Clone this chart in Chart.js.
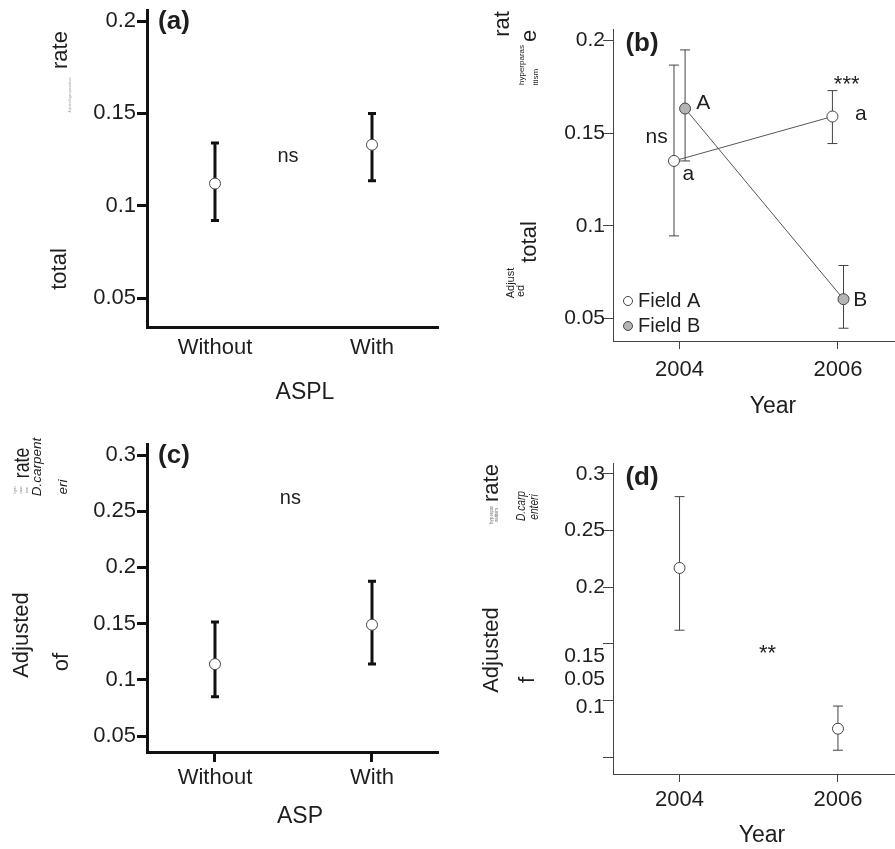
<!DOCTYPE html>
<html>
<head>
<meta charset="utf-8">
<script src="https://cdn.jsdelivr.net/npm/chart.js@4.4.0/dist/chart.umd.min.js"></script>
<style>
  body { margin: 0; background: #fff; }
  .panel { position: absolute; }
</style>
</head>
<body>
<canvas id="chartA" class="panel" style="left:0;top:0" width="440" height="420"></canvas>
<canvas id="chartB" class="panel" style="left:440px;top:0" width="455" height="420"></canvas>
<canvas id="chartC" class="panel" style="left:0;top:420px" width="440" height="429"></canvas>
<canvas id="chartD" class="panel" style="left:440px;top:420px" width="455" height="429"></canvas>
<script>
// --- DATA ---
// (a) total hyperparasitism, with / without ASPL
const aspLabels = ['Without', 'With'];
const aMean = [0.112, 0.133];
const aLow = [0.092, 0.1135];
const aHigh = [0.134, 0.150];
const aTicks = [0.05, 0.1, 0.15, 0.2];

// (b) total hyperparasitism by year and field
const years = [2004, 2006];
const fieldNames = ['Field A', 'Field B'];
const bFieldAMean = [0.135, 0.159];
const bFieldALow = [0.0945, 0.1444];
const bFieldAHigh = [0.1868, 0.173];
const bFieldBMean = [0.1633, 0.0603];
const bFieldBLow = [0.135, 0.0446];
const bFieldBHigh = [0.195, 0.0785];
const bTicks = [0.05, 0.1, 0.15, 0.2];

// (c) D. carpenteri hyperparasitism, with / without ASP
const cMean = [0.114, 0.149];
const cLow = [0.085, 0.114];
const cHigh = [0.1515, 0.1877];
const cTicks = [0.05, 0.1, 0.15, 0.2, 0.25, 0.3];

// (d) D. carpenteri hyperparasitism by year
const dMean = [0.217, 0.075];
const dLow = [0.162, 0.056];
const dHigh = [0.28, 0.095];
const dTicks = [0.05, 0.1, 0.15, 0.2, 0.25, 0.3];
const dShownTicks = [0.2, 0.25, 0.3];

const FONT = '"Liberation Sans", Arial, Helvetica, sans-serif';
const INK = '#1e1e1e';
const fieldDodge = 0.07; // fields are drawn a little apart at each year

// --- PLUGINS ---
const errorBarPlugin = {
  id: 'errorBars',
  beforeDatasetsDraw(chart, args, opts) {
    const { ctx } = chart;
    const y = chart.scales.y;
    ctx.save();
    ctx.strokeStyle = opts.color;
    ctx.lineWidth = opts.width;
    chart.data.datasets.forEach((ds, di) => {
      if (!ds.low) return;
      chart.getDatasetMeta(di).data.forEach((pt, i) => {
        const top = y.getPixelForValue(ds.high[i]);
        const bot = y.getPixelForValue(ds.low[i]);
        ctx.beginPath();
        ctx.moveTo(pt.x, top); ctx.lineTo(pt.x, bot);
        ctx.moveTo(pt.x - opts.cap, top); ctx.lineTo(pt.x + opts.cap, top);
        ctx.moveTo(pt.x - opts.cap, bot); ctx.lineTo(pt.x + opts.cap, bot);
        ctx.stroke();
      });
    });
    ctx.restore();
  }
};

function drawText(ctx, t, px, py) {
  ctx.save();
  ctx.translate(px, py);
  if (t.rotate) ctx.rotate(-Math.PI / 2);
  ctx.scale(t.sx || 1, 1);
  ctx.font = `${t.style || 'normal'} ${t.weight || 'normal'} ${t.size}px ${FONT}`;
  ctx.fillStyle = t.color || INK;
  ctx.textAlign = t.align || 'center';
  ctx.textBaseline = 'middle';
  ctx.fillText(t.text, 0, 0);
  ctx.restore();
}

const textPlugin = {
  id: 'panelText',
  afterDraw(chart, args, opts) {
    const { ctx, chartArea } = chart;
    const { x, y } = chart.scales;
    (opts.fixed || []).forEach(t => drawText(ctx, t, t.x, t.y));
    (opts.notes || []).forEach(n => drawText(ctx, n, x.getPixelForValue(n.x), y.getPixelForValue(n.y)));
    (opts.looseTicks || []).forEach(l => drawText(ctx, { text: l.text, size: 21, align: 'right' },
      chartArea.left - 8, y.getPixelForValue(l.value) + l.shift));
    if (opts.legend) {
      const lg = opts.legend;
      chart.data.datasets.forEach((ds, i) => {
        const cy = lg.y + i * lg.gap;
        ctx.save();
        ctx.beginPath();
        ctx.arc(lg.x, cy, 4.5, 0, Math.PI * 2);
        ctx.fillStyle = ds.pointBackgroundColor;
        ctx.fill();
        ctx.strokeStyle = ds.pointBorderColor;
        ctx.lineWidth = 1;
        ctx.stroke();
        ctx.restore();
        drawText(ctx, { text: ds.label, size: 20, align: 'left' }, lg.x + 10, cy);
      });
    }
  }
};

// --- CHART FACTORY ---
function makePanel(id, cfg) {
  const tickFont = { family: FONT, size: 22 };
  return new Chart(document.getElementById(id), {
    type: 'scatter',
    data: { datasets: cfg.datasets },
    options: {
      responsive: false,
      animation: false,
      events: [],
      layout: {
        autoPadding: false,
        padding: { top: cfg.area.top, right: cfg.area.right, left: 0, bottom: 0 }
      },
      plugins: {
        legend: { display: false },
        tooltip: { enabled: false },
        errorBars: cfg.errorBars,
        panelText: cfg.text
      },
      scales: {
        x: {
          type: 'linear',
          min: cfg.xMin,
          max: cfg.xMax,
          afterBuildTicks: s => { s.ticks = cfg.xTicks.map(v => ({ value: v })); },
          afterFit: s => { s.height = cfg.area.xHeight; s.paddingLeft = 0; s.paddingRight = 0; },
          ticks: { callback: cfg.xLabel, padding: cfg.xPad, font: tickFont, color: INK, maxRotation: 0, autoSkip: false },
          grid: {
            display: cfg.xTickLen > 0, drawOnChartArea: false, drawTicks: cfg.xTickLen > 0,
            tickLength: cfg.xTickLen, color: cfg.axisColor, lineWidth: cfg.axisWidth
          },
          border: { color: cfg.axisColor, width: cfg.axisWidth }
        },
        y: {
          min: cfg.yMin,
          max: cfg.yMax,
          afterBuildTicks: s => { s.ticks = cfg.yTicks.map(v => ({ value: v })); },
          afterFit: s => { s.width = cfg.area.yWidth; s.paddingTop = 0; s.paddingBottom = 0; },
          ticks: {
            callback: cfg.yLabel || (v => String(v)),
            padding: cfg.yPad, font: { family: FONT, size: cfg.yFont }, color: INK, autoSkip: false
          },
          grid: { drawOnChartArea: false, tickLength: 10, color: cfg.axisColor, lineWidth: cfg.axisWidth },
          border: { color: cfg.axisColor, width: cfg.axisWidth }
        }
      }
    },
    plugins: [errorBarPlugin, textPlugin]
  });
}

function openPoints(means, low, high, xs) {
  return {
    data: means.map((m, i) => ({ x: xs[i], y: m })),
    low: low,
    high: high,
    pointRadius: 5.5,
    pointBackgroundColor: '#fff',
    pointBorderColor: '#444',
    pointBorderWidth: 1
  };
}

const groupX = aspLabels.map((_, i) => i);

// (a)
makePanel('chartA', {
  datasets: [openPoints(aMean, aLow, aHigh, groupX)],
  area: { top: 10, right: 3, xHeight: 93, yWidth: 147 },
  xMin: -0.433, xMax: 1.414, xTicks: groupX, xLabel: v => aspLabels[v], xPad: 8, xTickLen: 0,
  yMin: 0.0343, yMax: 0.206, yTicks: aTicks, yPad: 1, yFont: 22,
  axisColor: '#111', axisWidth: 3,
  errorBars: { color: '#111', width: 3, cap: 4 },
  text: {
    fixed: [
      { text: '(a)', x: 174, y: 22, size: 26, weight: 'bold' },
      { text: 'rate', x: 61, y: 50, size: 22, rotate: true },
      { text: 'Adjustedhyperparasitism', x: 70, y: 95, size: 3.2, rotate: true, color: '#999' },
      { text: 'total', x: 60, y: 269, size: 22, rotate: true },
      { text: 'ASPL', x: 305, y: 393, size: 23 }
    ],
    notes: [{ text: 'ns', x: 0.465, y: 0.1265, size: 20 }]
  }
});

// (b)
const bFieldA = openPoints(bFieldAMean, bFieldALow, bFieldAHigh, years.map(y => y - fieldDodge));
const bFieldB = openPoints(bFieldBMean, bFieldBLow, bFieldBHigh, years.map(y => y + fieldDodge));
bFieldB.pointBackgroundColor = '#b4b4b4';
[bFieldA, bFieldB].forEach((ds, i) => {
  ds.label = fieldNames[i];
  ds.showLine = true;
  ds.borderColor = '#555';
  ds.borderWidth = 1;
});
makePanel('chartB', {
  datasets: [bFieldA, bFieldB],
  area: { top: 29, right: 0, xHeight: 79, yWidth: 173 },
  xMin: 2003.16, xMax: 2006.72, xTicks: years, xLabel: v => String(v), xPad: 8, xTickLen: 8,
  yMin: 0.0377, yMax: 0.2063, yTicks: bTicks, yPad: -2, yFont: 21,
  axisColor: '#444', axisWidth: 1,
  errorBars: { color: '#444', width: 1, cap: 5 },
  text: {
    fixed: [
      { text: '(b)', x: 202, y: 44, size: 26, weight: 'bold' },
      { text: 'rat', x: 63, y: 24, size: 22, rotate: true },
      { text: 'e', x: 90, y: 36, size: 22, rotate: true },
      { text: 'hyperparas', x: 82, y: 65, size: 8, rotate: true },
      { text: 'itism', x: 96, y: 77, size: 8, rotate: true },
      { text: 'total', x: 90, y: 242, size: 22, rotate: true },
      { text: 'Adjust', x: 71, y: 283, size: 11, rotate: true },
      { text: 'ed', x: 81, y: 291, size: 11, rotate: true },
      { text: 'Year', x: 333, y: 407, size: 23 }
    ],
    notes: [
      { text: 'ns', x: 2003.71, y: 0.148, size: 21 },
      { text: 'A', x: 2004.30, y: 0.1662, size: 21 },
      { text: 'a', x: 2004.11, y: 0.1277, size: 21 },
      { text: '***', x: 2006.11, y: 0.1761, size: 22 },
      { text: 'a', x: 2006.29, y: 0.1604, size: 21 },
      { text: 'B', x: 2006.28, y: 0.0599, size: 21 }
    ],
    legend: { x: 188, y: 301, gap: 25 }
  }
});

// (c)
makePanel('chartC', {
  datasets: [openPoints(cMean, cLow, cHigh, groupX)],
  area: { top: 24, right: 3, xHeight: 97, yWidth: 147 },
  xMin: -0.433, xMax: 1.414, xTicks: groupX, xLabel: v => aspLabels[v], xPad: 3, xTickLen: 10,
  yMin: 0.0358, yMax: 0.3098, yTicks: cTicks, yPad: 1, yFont: 22,
  axisColor: '#111', axisWidth: 3,
  errorBars: { color: '#111', width: 3, cap: 4 },
  text: {
    fixed: [
      { text: '(c)', x: 174, y: 36, size: 26, weight: 'bold' },
      { text: 'rate', x: 23, y: 43, size: 22, sx: 0.8, rotate: true },
      { text: 'hyper', x: 15, y: 70, size: 3, rotate: true, color: '#888' },
      { text: 'paras', x: 21, y: 70, size: 3, rotate: true, color: '#888' },
      { text: 'itism', x: 27, y: 70, size: 3, rotate: true, color: '#888' },
      { text: 'D.carpent', x: 37, y: 47, size: 13.5, style: 'italic', rotate: true },
      { text: 'eri', x: 63, y: 67, size: 13.5, style: 'italic', rotate: true },
      { text: 'Adjusted', x: 22, y: 215, size: 22, rotate: true },
      { text: 'of', x: 62, y: 242, size: 22, rotate: true },
      { text: 'ASP', x: 300, y: 397, size: 23 }
    ],
    notes: [{ text: 'ns', x: 0.48, y: 0.2617, size: 20 }]
  }
});

// (d)
makePanel('chartD', {
  datasets: [openPoints(dMean, dLow, dHigh, years)],
  area: { top: 43, right: 0, xHeight: 75, yWidth: 173 },
  xMin: 2003.16, xMax: 2006.72, xTicks: years, xLabel: v => String(v), xPad: 5, xTickLen: 8,
  yMin: 0.035, yMax: 0.3097, yTicks: dTicks, yPad: -2, yFont: 21,
  yLabel: v => (dShownTicks.includes(v) ? String(v) : ''),
  axisColor: '#444', axisWidth: 1,
  errorBars: { color: '#444', width: 1, cap: 5 },
  text: {
    fixed: [
      { text: '(d)', x: 202, y: 58, size: 26, weight: 'bold' },
      { text: 'rate', x: 52, y: 63, size: 22, rotate: true },
      { text: 'hyperpar', x: 52, y: 95, size: 4.5, rotate: true, color: '#777' },
      { text: 'asitism', x: 57, y: 95, size: 4.5, rotate: true, color: '#777' },
      { text: 'D.carp', x: 82, y: 86, size: 12, sx: 0.85, style: 'italic', rotate: true },
      { text: 'enteri', x: 95, y: 87, size: 12, sx: 0.85, style: 'italic', rotate: true },
      { text: 'Adjusted', x: 52, y: 230, size: 22, rotate: true },
      { text: 'f', x: 88, y: 260, size: 22, rotate: true },
      { text: 'Year', x: 322, y: 416, size: 23 }
    ],
    notes: [{ text: '**', x: 2005.11, y: 0.1414, size: 22 }],
    // these three tick labels sit off their ticks in the original figure
    looseTicks: [
      { text: '0.15', value: 0.15, shift: 12 },
      { text: '0.05', value: 0.1, shift: -21 },
      { text: '0.1', value: 0.1, shift: 7 }
    ]
  }
});
</script>
</body>
</html>
